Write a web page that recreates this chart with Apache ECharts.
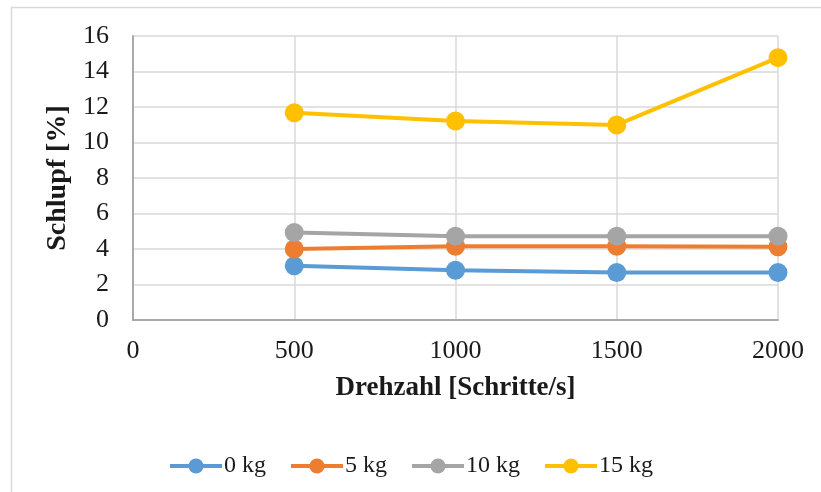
<!DOCTYPE html>
<html>
<head>
<meta charset="utf-8">
<script src="https://cdn.jsdelivr.net/npm/echarts@6/dist/echarts.min.js"></script>
<style>
  html, body { margin: 0; padding: 0; background: #fff; }
  #chart { width: 821px; height: 492px; }
</style>
</head>
<body>
<div id="chart"></div>
<script>
// Drehzahl in Schritten pro Sekunde
const drehzahl = [500, 1000, 1500, 2000];

// Schlupf in Prozent je Last
const schlupf0kg = [3.05, 2.8, 2.68, 2.68];
const schlupf5kg = [4.0, 4.15, 4.15, 4.13];
const schlupf10kg = [4.93, 4.72, 4.72, 4.72];
const schlupf15kg = [11.68, 11.21, 10.99, 14.78];

const serienNamen = ['0 kg', '5 kg', '10 kg', '15 kg'];
const serienFarben = ['#5b9bd5', '#ed7d31', '#a5a5a5', '#ffc000'];
const serienWerte = [schlupf0kg, schlupf5kg, schlupf10kg, schlupf15kg];

const schrift = '"Liberation Serif", "Times New Roman", serif';
const textFarbe = '#1a1a1a';
const rahmenFarbe = '#a6a6a6';
const gitterFarbe = '#d9d9d9';

const chart = echarts.init(document.getElementById('chart'));

const series = serienNamen.map((name, i) => ({
  name,
  type: 'line',
  data: drehzahl.map((x, j) => [x, serienWerte[i][j]]),
  symbol: 'circle',
  symbolSize: 19,
  color: serienFarben[i],
  lineStyle: { width: 4, color: serienFarben[i] },
  itemStyle: { color: serienFarben[i] },
  animation: false,
  z: 3 + i
}));

chart.setOption({
  animation: false,
  backgroundColor: '#ffffff',
  textStyle: { fontFamily: schrift, color: textFarbe },
  graphic: [
    { type: 'line', shape: { x1: 11.5, y1: 7, x2: 11.5, y2: 492 }, style: { stroke: gitterFarbe, lineWidth: 1.5 }, silent: true },
    { type: 'line', shape: { x1: 11, y1: 7.5, x2: 821, y2: 7.5 }, style: { stroke: gitterFarbe, lineWidth: 1.5 }, silent: true }
  ],
  grid: { left: 133, right: 43, top: 36, bottom: 172 },
  xAxis: [
    {
      type: 'value',
      min: 0, max: 2000, interval: 500,
      position: 'bottom',
      name: 'Drehzahl [Schritte/s]',
      nameLocation: 'middle',
      nameGap: 55,
      nameTextStyle: { fontFamily: schrift, fontSize: 27, fontWeight: 'bold', color: textFarbe },
      axisLine: { show: true, lineStyle: { color: rahmenFarbe, width: 1.5 } },
      axisTick: { show: false },
      axisLabel: { margin: 18, fontFamily: schrift, fontSize: 26, color: textFarbe, formatter: v => String(v) },
      splitLine: { show: true, lineStyle: { color: gitterFarbe, width: 1.5 } }
    },
    {
      type: 'value',
      min: 0, max: 2000, interval: 500,
      position: 'top',
      axisLine: { show: true, lineStyle: { color: rahmenFarbe, width: 1.5 } },
      axisTick: { show: false },
      axisLabel: { show: false },
      splitLine: { show: false }
    }
  ],
  yAxis: [
    {
      type: 'value',
      min: 0, max: 16, interval: 2,
      position: 'left',
      name: 'Schlupf [%]',
      nameLocation: 'middle',
      nameGap: 55,
      nameTextStyle: { fontFamily: schrift, fontSize: 28, fontWeight: 'bold', color: textFarbe },
      axisLine: { show: true, lineStyle: { color: rahmenFarbe, width: 1.5 } },
      axisTick: { show: false },
      axisLabel: { margin: 24, fontFamily: schrift, fontSize: 26, color: textFarbe },
      splitLine: { show: true, lineStyle: { color: gitterFarbe, width: 1.5 } }
    },
    {
      type: 'value',
      min: 0, max: 16, interval: 2,
      position: 'right',
      axisLine: { show: true, lineStyle: { color: rahmenFarbe, width: 1.5 } },
      axisTick: { show: false },
      axisLabel: { show: false },
      splitLine: { show: false }
    }
  ],
  legend: {
    data: serienNamen,
    top: 449,
    left: 'center',
    itemWidth: 52,
    itemHeight: 19,
    itemGap: 23,
    lineStyle: { width: 4 },
    textStyle: { fontFamily: schrift, fontSize: 24, color: textFarbe, padding: [0, 0, 0, -3] }
  },
  series
});
</script>
</body>
</html>
